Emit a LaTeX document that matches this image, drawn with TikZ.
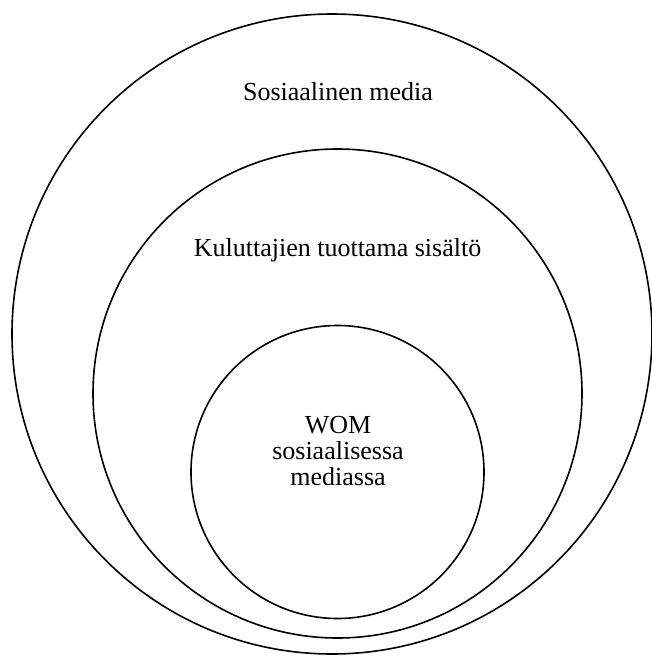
\documentclass[tikz,border=0pt]{standalone}
\usepackage{fontspec}
\setmainfont{Liberation Serif}
\begin{document}
\begin{tikzpicture}[x=1pt,y=-1pt,line width=1.6pt]
\tikzset{label text/.style={font=\fontsize{26}{26}\selectfont, inner sep=0pt}}
\useasboundingbox (0,0) rectangle (652,657);
% the three rings
\draw (332,334) circle (320);
\draw (337.5,393.5) circle (244.5);
\draw (337.5,472) circle (146.5);
% labels
\node[label text, anchor=base] (some) at (338,100) {Sosiaalinen media};
\node[label text, anchor=base] (kts) at (337.5,256) {Kuluttajien tuottama sisältö};
\node[label text, align=center] (wom) at (338,451) {WOM\\sosiaalisessa\\mediassa};
\end{tikzpicture}
\end{document}
